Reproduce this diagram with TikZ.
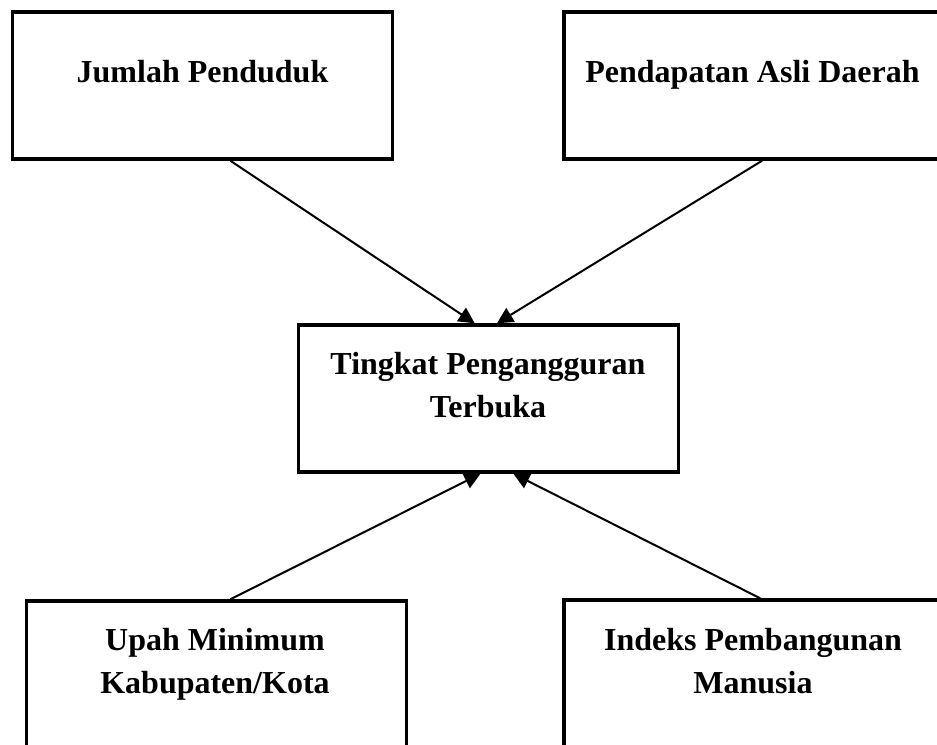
\documentclass[tikz,border=0pt]{standalone}
\usepackage{fontspec}
\setmainfont{Liberation Serif}
\usetikzlibrary{arrows.meta,calc,backgrounds}
\begin{document}
\begin{tikzpicture}[x=0.75pt,y=-0.75pt,
  box/.style={draw=black,line width=2.6pt,fill=white,minimum width=285pt,minimum height=110.25pt,inner sep=0pt},
  lbl/.style={font=\bfseries\fontsize{24}{32}\selectfont,align=center,anchor=base,inner sep=0pt},
  conn/.style={line width=1.5pt,-{Triangle[length=12pt,width=12pt]}}]
\useasboundingbox (0,0) rectangle (937,744);
\clip (0,0) rectangle (937,744);
\node[box] (tl) at (202.7,85.5) {};
\node[box] (tr) at (754,85.5) {};
\node[box] (c) at (488.5,398.5) {};
\node[box] (bl) at (216.5,674.5) {};
\node[box] (br) at (754,673.5) {};
\node[lbl] (tltext) at (202.5,82) {Jumlah Penduduk};
\node[lbl] (trtext) at (752.5,82) {Pendapatan Asli Daerah};
\node[lbl] (ctext) at (488,417) {Tingkat Pengangguran\\Terbuka};
\node[lbl] (bltext) at (215,693) {Upah Minimum\\Kabupaten/Kota};
\node[lbl] (brtext) at (753,693) {Indeks Pembangunan\\Manusia};
\begin{pgfonlayer}{background}
\draw[conn] ($(tl.south west)!0.572!(tl.south east)$) -- ($(c.north west)!0.464!(c.north east)$);
\draw[conn] ($(tr.south west)!0.521!(tr.south east)$) -- ($(c.north west)!0.522!(c.north east)$);
\draw[conn] ($(bl.north west)!0.536!(bl.north east)$) -- ($(c.south west)!0.479!(c.south east)$);
\draw[conn] ($(br.north west)!0.516!(br.north east)$) -- ($(c.south west)!0.565!(c.south east)$);
\end{pgfonlayer}
\end{tikzpicture}
\end{document}
